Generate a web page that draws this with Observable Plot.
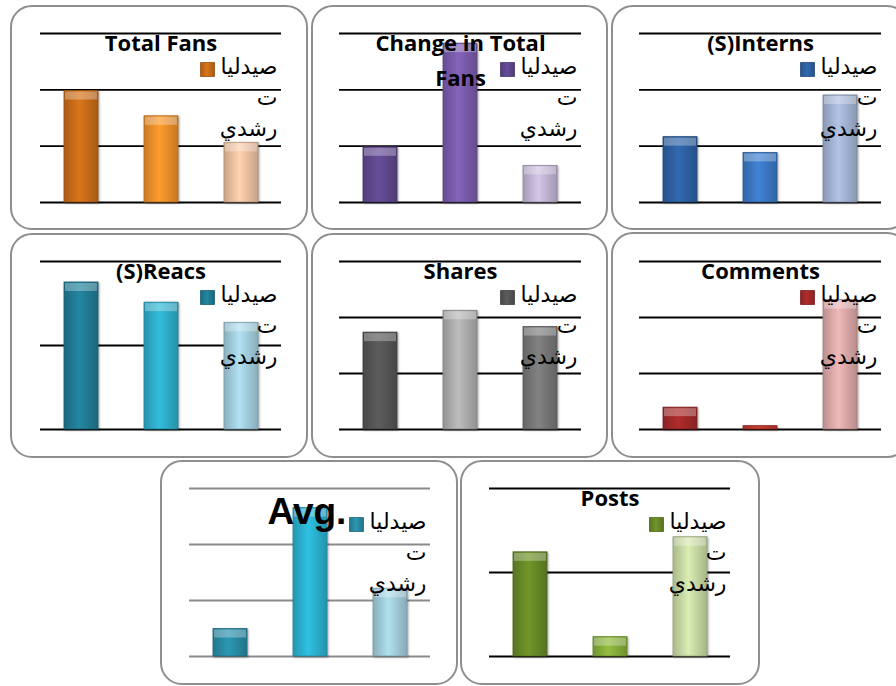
<!DOCTYPE html>
<html><head><meta charset="utf-8">
<script src="https://cdn.jsdelivr.net/npm/d3@7"></script>
<script src="https://cdn.jsdelivr.net/npm/@observablehq/plot@0.6"></script>
<style>
html,body{margin:0;padding:0;background:#fff;}
body{width:896px;height:686px;overflow:hidden;position:relative;}
.panel{position:absolute;}
.frame{position:absolute;left:0;top:0;right:0;bottom:0;border:2px solid #8e8e8e;border-radius:22px;background:#fff;box-sizing:border-box;}
.panel svg{position:absolute;left:0;top:0;max-width:none!important;}
g[aria-label="bar"]{filter:drop-shadow(1.5px 1px 1px rgba(0,0,0,0.35));}
</style></head><body>
<svg width="0" height="0" style="position:absolute"><defs id="defs"></defs></svg>
<script>
// ---- data ----
const categories = ["1", "2", "3"];
const titles = ["Total Fans", "Change in Total\nFans", "(S)Interns", "(S)Reacs", "Shares", "Comments", "Avg.", "Posts"];
const totalFans = [1.98, 1.53, 1.06];
const changeInTotalFans = [0.98, 2.82, 0.65];
const interns = [1.16, 0.88, 1.90];
const reacs = [1.75, 1.51, 1.27];
const shares = [1.73, 2.12, 1.83];
const comments = [0.39, 0.06, 2.31];
const avg = [0.49, 2.65, 1.21];
const posts = [1.24, 0.23, 1.42];
const gridTicks3 = [0, 1, 2, 3];
const gridTicks2 = [0, 1, 2];
const legendLines = ["صيدليا", "ت", "رشدي"];

// ---- styles ----
const palettes = [
  ["#cf7019", "#f5952b", "#f6c8a6"],
  ["#634a92", "#7d5eb0", "#c8bcdc"],
  ["#2f64a8", "#3d7ccb", "#a8badb"],
  ["#21809a", "#2fb3d1", "#a9d6e6"],
  ["#585858", "#b3b3b3", "#7b7b7b"],
  ["#a82a2a", "#c23a2f", "#e4aeae"],
  ["#2a90aa", "#2db7d7", "#a7d4e2"],
  ["#6b8e28", "#8bb43c", "#cfe1aa"]
];
const seriesValues = [totalFans, changeInTotalFans, interns, reacs, shares, comments, avg, posts];
const ticks = [gridTicks3, gridTicks3, gridTicks3, gridTicks2, gridTicks3, gridTicks3, gridTicks3, gridTicks2];
// layout: [left, top, width, height], margins [left, right, top, bottom]
const layout = [
  {box: [10, 5, 298, 225], m: [30, 27, 28, 28]},
  {box: [311, 5, 297, 225], m: [28, 27, 28, 28]},
  {box: [611, 5, 298, 225], m: [28, 28, 28, 28]},
  {box: [10, 233, 298, 225], m: [30, 27, 28, 29]},
  {box: [311, 233, 297, 225], m: [28, 27, 28, 29]},
  {box: [611, 232, 298, 226], m: [28, 28, 29, 29]},
  {box: [160, 460, 298, 225], m: [29, 28, 28, 29]},
  {box: [460, 460, 300, 225], m: [29, 30, 28, 29]}
];

// gradients
const defs = d3.select("#defs");
function addGrad(id, c) {
  const col = d3.color(c);
  const g = defs.append("linearGradient").attr("id", id).attr("x1", 0).attr("x2", 1).attr("y1", 0).attr("y2", 0);
  g.append("stop").attr("offset", "0%").attr("stop-color", col.darker(0.55).formatHex());
  g.append("stop").attr("offset", "45%").attr("stop-color", col.brighter(0.15).formatHex());
  g.append("stop").attr("offset", "100%").attr("stop-color", col.darker(0.6).formatHex());
}
palettes.forEach((pal, k) => pal.forEach((c, i) => addGrad(`g${k}_${i}`, c)));

seriesValues.forEach((vals, k) => {
  const {box, m} = layout[k];
  const pal = palettes[k];
  const data = categories.map((c, i) => ({
    cat: c, value: vals[i], fill: `url(#g${k}_${i})`,
    stroke: d3.color(pal[i]).darker(0.9).formatHex()
  }));
  const title = titles[k];
  const nLines = title.split("\n").length;
  const isAvg = title === "Avg.";
  const gt = ticks[k];
  const plot = Plot.plot({
    width: box[2], height: box[3],
    marginLeft: m[0], marginRight: m[1], marginTop: m[2], marginBottom: m[3],
    x: {domain: categories, paddingInner: 0.58, paddingOuter: 0.29, axis: null},
    y: {domain: [0, gt[gt.length - 1]], axis: null},
    color: {type: "identity"},
    style: {background: "transparent", overflow: "visible"},
    marks: [
      Plot.ruleY(gt, {stroke: isAvg ? "#8a8a8a" : "#000", strokeWidth: 1.8}),
      Plot.barY(data, {x: "cat", y: "value", fill: "fill", stroke: "stroke", strokeWidth: 0.8}),
      Plot.tickY(data.filter(d => d.value > 0.2), {
        x: "cat", y: "value", stroke: "#fff", strokeOpacity: 0.3, strokeWidth: 8, dy: 4.5, inset: 1
      }),
      Plot.text([title], {
        frameAnchor: "top", lineAnchor: "bottom", textAnchor: "middle",
        dx: isAvg ? -3 : 0, dy: isAvg ? 35 : 17 + (nLines - 1) * 35,
        lineHeight: 35 / 22,
        fontSize: isAvg ? 37 : 22, fontWeight: "bold",
        fontFamily: isAvg ? "Liberation Sans, Arial, sans-serif" : "Open Sans, sans-serif",
        fill: "#000"
      }),
      Plot.dot([legendLines], {
        frameAnchor: "top-right", dx: -74, dy: 36, symbol: "square", r: 7.9,
        fill: `url(#g${k}_0)`, stroke: d3.color(pal[0]).darker(0.9).formatHex(), strokeWidth: 0.8
      }),
      Plot.text([legendLines.join("\n")], {
        frameAnchor: "top-right", textAnchor: "end", lineAnchor: "bottom",
        dx: -4, dy: 102, lineHeight: 31 / 22, fontSize: 22,
        fontFamily: "DejaVu Sans, sans-serif", fill: "#000"
      })
    ]
  });
  const div = document.createElement("div");
  div.className = "panel";
  Object.assign(div.style, {left: box[0] + "px", top: box[1] + "px", width: box[2] + "px", height: box[3] + "px"});
  const frame = document.createElement("div");
  frame.className = "frame";
  div.appendChild(frame);
  div.appendChild(plot);
  document.body.appendChild(div);
});
</script>
</body></html>
